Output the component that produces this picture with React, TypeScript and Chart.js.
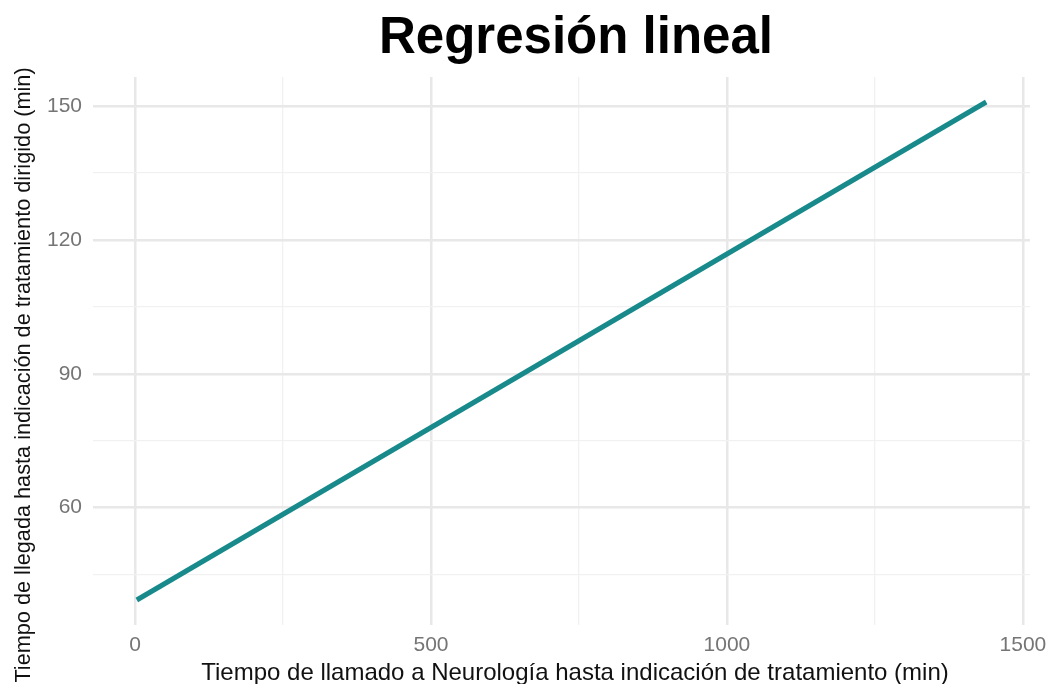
import { useEffect, useRef } from "react";
import { Chart, registerables } from "chart.js";

Chart.register(...registerables);

// ---- data ----
const titleText = "Regresión lineal";
const xAxisTitle = "Tiempo de llamado a Neurología hasta indicación de tratamiento (min)";
const yAxisTitle = "Tiempo de llegada hasta indicación de tratamiento dirigido (min)";

const xValues = [3, 1438];
const yValues = [39.3, 150.9];

const xTickValues = [0, 250, 500, 750, 1000, 1250, 1500];
const xMajorTicks = [0, 500, 1000, 1500];
const yTickValues = [45, 60, 75, 90, 105, 120, 135, 150];
const yMajorTicks = [60, 90, 120, 150];

const FONT = '"Liberation Sans", Arial, Helvetica, sans-serif';

const textPlugin = {
  id: "refTexts",
  afterDraw(chart: any) {
    const ctx = chart.ctx as CanvasRenderingContext2D;
    ctx.save();
    // main title
    ctx.fillStyle = "#000000";
    ctx.font = `bold 51px ${FONT}`;
    ctx.textAlign = "center";
    ctx.textBaseline = "alphabetic";
    ctx.fillText(titleText, 576, 53);
    // x axis title
    ctx.fillStyle = "#111111";
    ctx.font = `24px ${FONT}`;
    ctx.fillText(xAxisTitle, 575, 680);
    // y axis title
    ctx.translate(30, 375);
    ctx.rotate(-Math.PI / 2);
    ctx.font = `21.7px ${FONT}`;
    ctx.fillText(yAxisTitle, 0, 0);
    ctx.restore();
  },
};

export default function App() {
  const canvasRef = useRef<HTMLCanvasElement | null>(null);

  useEffect(() => {
    const canvas = canvasRef.current;
    if (!canvas) return;
    const chart = new Chart(canvas, {
      type: "line",
      data: {
        datasets: [
          {
            label: "Regresión",
            data: xValues.map((x, i) => ({ x, y: yValues[i] })),
            borderColor: "#188a8b",
            borderWidth: 5,
            pointRadius: 0,
            fill: false,
            tension: 0,
            borderCapStyle: "butt",
          },
        ],
      },
      options: {
        responsive: false,
        animation: false,
        layout: { padding: { left: 0, right: 16, top: 77, bottom: 0 } },
        plugins: {
          legend: { display: false },
          title: { display: false },
          tooltip: { enabled: false },
        },
        scales: {
          x: {
            type: "linear",
            min: -71,
            max: 1512,
            afterFit: (scale: any) => {
              scale.height = 59;
              scale.paddingLeft = 0;
              scale.paddingRight = 0;
            },
            afterBuildTicks: (scale: any) => {
              scale.ticks = xTickValues.map((v) => ({ value: v }));
            },
            ticks: {
              padding: 8,
              color: "#757575",
              font: { family: FONT, size: 21 },
              maxRotation: 0,
              autoSkip: false,
              callback: (v: any) => (xMajorTicks.includes(Number(v)) ? String(v) : ""),
            },
            grid: {
              drawTicks: false,
              color: (c: any) => (xMajorTicks.includes(c.tick?.value) ? "#e8e8e8" : "#f1f1f1"),
              lineWidth: (c: any) => (xMajorTicks.includes(c.tick?.value) ? 2.5 : 1.3),
            },
            border: { display: false },
            title: { display: false },
          },
          y: {
            type: "linear",
            min: 33.7,
            max: 156.5,
            afterFit: (scale: any) => {
              scale.width = 93;
              scale.paddingTop = 0;
              scale.paddingBottom = 0;
            },
            afterBuildTicks: (scale: any) => {
              scale.ticks = yTickValues.map((v) => ({ value: v }));
            },
            ticks: {
              padding: 11,
              color: "#757575",
              font: { family: FONT, size: 21 },
              autoSkip: false,
              callback: (v: any) => (yMajorTicks.includes(Number(v)) ? String(v) : ""),
            },
            grid: {
              drawTicks: false,
              color: (c: any) => (yMajorTicks.includes(c.tick?.value) ? "#e8e8e8" : "#f1f1f1"),
              lineWidth: (c: any) => (yMajorTicks.includes(c.tick?.value) ? 2.5 : 1.3),
            },
            border: { display: false },
            title: { display: false },
          },
        },
      },
      plugins: [textPlugin],
    } as any);
    return () => chart.destroy();
  }, []);

  return (
    <div style={{ position: "fixed", left: 0, top: 0, width: 1046, height: 684, background: "#ffffff" }}>
      <canvas ref={canvasRef} width={1046} height={684} style={{ width: 1046, height: 684, display: "block" }} />
    </div>
  );
}
